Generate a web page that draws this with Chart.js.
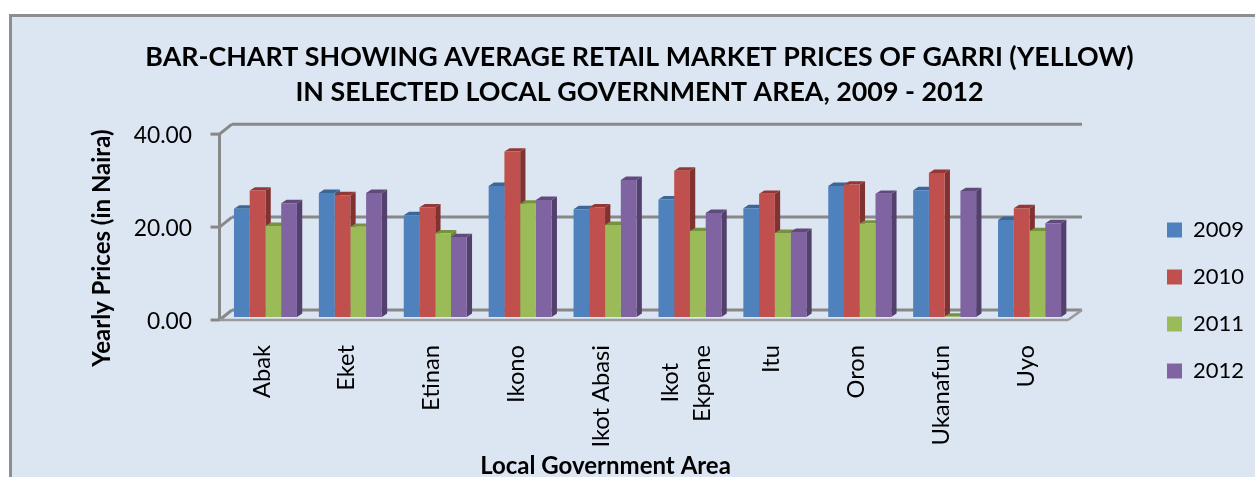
<!DOCTYPE html>
<html>
<head>
<meta charset="utf-8">
<title>Garri prices</title>
<script src="https://cdn.jsdelivr.net/npm/chart.js@4/dist/chart.umd.min.js"></script>
<style>
    html, body { margin: 0; padding: 0; background: #fff; overflow: hidden; }
    #panel {
        position: absolute; left: 9px; top: 14px; width: 1300px; height: 500px;
        background: #DCE6F2; border: 3px solid #8E8E8E; box-sizing: border-box;
    }
    canvas { position: absolute; left: 0; top: 0; }
</style>
</head>
<body>
<div id="panel"></div>
<canvas id="chart" width="1255" height="477"></canvas>
<script>
const categories = ["Abak", "Eket", "Etinan", "Ikono", "Ikot Abasi", ["Ikot", "Ekpene"], "Itu", "Oron", "Ukanafun", "Uyo"];
const years = ["2009", "2010", "2011", "2012"];
const values2009 = [23.3, 26.7, 21.9, 28.2, 23.2, 25.3, 23.4, 28.2, 27.3, 20.9];
const values2010 = [27.2, 26.2, 23.6, 35.6, 23.6, 31.5, 26.5, 28.5, 31.0, 23.4];
const values2011 = [19.6, 19.4, 18.0, 24.4, 19.8, 18.5, 18.1, 20.1, 0.1, 18.5];
const values2012 = [24.5, 26.7, 17.2, 25.2, 29.5, 22.4, 18.3, 26.5, 27.1, 20.2];
const yTicks = [0, 20, 40];
const titleLines = ["BAR-CHART SHOWING AVERAGE RETAIL MARKET PRICES OF GARRI (YELLOW)", "IN SELECTED LOCAL GOVERNMENT AREA, 2009 - 2012"];

const allValues = [values2009, values2010, values2011, values2012];
const frontColors = ["#4F81BD", "#C0504D", "#9BBB59", "#8064A2"];
const topColors = ["#3B6797", "#953735", "#76923C", "#604A7B"];
const sideColors = ["#3A5F8C", "#7F3230", "#6F8840", "#54406C"];
const lineColor = "#888888";
const fontName = "Lato";

// moves an axis title away from the middle of its scale
function shiftTitle(scale, dx, dy) {
    if (scale.shifted) return;
    scale.shifted = true;
    const original = scale.drawTitle;
    scale.drawTitle = function () {
        this.ctx.save();
        this.ctx.translate(dx, dy);
        original.call(this);
        this.ctx.restore();
    };
}

// the wrapped label has its two lines centred on each other, not end-aligned
function splitWrappedLabel(scale) {
    const items = scale.getLabelItems();
    const index = items.findIndex(item => Array.isArray(item.label));
    if (index < 0) return;
    const item = items[index];
    const single = items[index - 1];
    const x = single.options.translation[0] + scale.getPixelForTick(index) - scale.getPixelForTick(index - 1);
    const y = single.options.translation[1];
    const parts = item.label.map((text, n) => ({
        ...item,
        label: text,
        textOffset: single.textOffset,
        options: { ...item.options, translation: [x + (n === 0 ? -16 : 16), y + (n === 0 ? 18 : 0)] }
    }));
    items.splice(index, 1, ...parts);
}

function line(ctx, x1, y1, x2, y2) {
    ctx.beginPath();
    ctx.moveTo(x1, y1);
    ctx.lineTo(x2, y2);
    ctx.stroke();
}

function drawWalls(chart) {
    const ctx = chart.ctx;
    const y = chart.scales.y;
    const area = chart.chartArea;
    // front edge sits left/below the bar plane, back wall right/above it
    const frontL = area.left - 3.5, frontR = area.right - 4;
    const backL = area.left + 9, backR = area.right + 10;
    ctx.save();
    ctx.strokeStyle = lineColor;
    ctx.lineWidth = 3;
    yTicks.forEach(v => {
        const py = y.getPixelForValue(v);
        line(ctx, frontL - 9, py + 3, frontL, py + 3);
        line(ctx, frontL, py + 3, backL, py - 7);
        line(ctx, backL, py - 7, backR, py - 7);
    });
    line(ctx, frontL, y.getPixelForValue(40) + 2, frontL, y.getPixelForValue(0) + 4);
    ctx.strokeStyle = "#9A9A9A";
    ctx.lineWidth = 2.5;
    line(ctx, frontL, y.getPixelForValue(0) + 3, frontR, y.getPixelForValue(0) + 3);
    line(ctx, frontR, y.getPixelForValue(0) + 3, backR, y.getPixelForValue(0) - 7);
    ctx.restore();
}

// side and top faces go first, the library paints the front faces over them
function drawFaces(chart) {
    const ctx = chart.ctx;
    const dx = 5.3, dy = 3.4;
    ctx.save();
    years.forEach((year, i) => {
        chart.getDatasetMeta(i).data.forEach(bar => {
            const p = bar.getProps(["x", "y", "base", "width"], true);
            const l = p.x - p.width / 2, r = p.x + p.width / 2;
            ctx.fillStyle = sideColors[i];
            ctx.beginPath();
            ctx.moveTo(r, p.y);
            ctx.lineTo(r + dx, p.y - dy);
            ctx.lineTo(r + dx, p.base - dy);
            ctx.lineTo(r, p.base);
            ctx.closePath();
            ctx.fill();
            ctx.fillStyle = topColors[i];
            ctx.beginPath();
            ctx.moveTo(l, p.y);
            ctx.lineTo(l + dx, p.y - dy);
            ctx.lineTo(r + dx, p.y - dy);
            ctx.lineTo(r, p.y);
            ctx.closePath();
            ctx.fill();
        });
    });
    ctx.restore();
}

const threeD = {
    id: "threeD",
    beforeLayout(chart) {
        const legend = chart.legend;
        if (legend.wrapped) return;
        legend.wrapped = true;
        const fit = legend.fit;
        legend.fit = function () {
            fit.call(this);
            this.width = 183;
        };
    },
    afterLayout(chart) {
        const legend = chart.legend;
        legend.left = 1142;
        legend.right = 1255;
        legend.top = 194;
        legend.bottom = 477;
        shiftTitle(chart.scales.y, 1, 24);
        shiftTitle(chart.scales.x, -42, 4);
    },
    beforeDraw(chart) {
        splitWrappedLabel(chart.scales.x);
    },
    beforeDatasetsDraw(chart) {
        drawWalls(chart);
        drawFaces(chart);
    }
};

new Chart(document.getElementById("chart").getContext("2d"), {
    type: "bar",
    plugins: [threeD],
    data: {
        labels: categories,
        datasets: years.map((year, i) => ({
            label: year,
            data: allValues[i],
            backgroundColor: frontColors[i],
            borderWidth: 0,
            categoryPercentage: 0.742,
            barPercentage: 1
        }))
    },
    options: {
        responsive: false,
        animation: false,
        layout: { padding: { left: 24, right: 0, top: 0, bottom: 0 } },
        plugins: {
            tooltip: { enabled: false },
            title: {
                display: true,
                text: titleLines,
                color: "#000",
                font: { family: fontName, size: 26.8, weight: "bold", lineHeight: 1.29 },
                padding: { top: 40, bottom: 22 }
            },
            legend: {
                position: "right",
                align: "start",
                labels: {
                    color: "#000",
                    font: { family: fontName, size: 22 },
                    boxWidth: 15,
                    boxHeight: 15,
                    padding: 25
                }
            }
        },
        scales: {
            x: {
                afterFit(scale) { scale.height = 160; },
                grid: { display: false },
                border: { display: false },
                ticks: {
                    color: "#000",
                    font: { family: fontName, size: 23.7, lineHeight: 1.35 },
                    minRotation: 90,
                    maxRotation: 90,
                    autoSkip: false,
                    padding: 20,
                    labelOffset: -3.5
                },
                title: {
                    display: true,
                    text: "Local Government Area",
                    color: "#000",
                    font: { family: fontName, size: 24, weight: "bold" },
                    padding: { top: 0, bottom: 0 }
                }
            },
            y: {
                min: 0,
                max: 40,
                afterFit(scale) { scale.width = 199; },
                afterBuildTicks(scale) { scale.ticks = yTicks.map(v => ({ value: v })); },
                grid: { display: false },
                border: { display: false },
                ticks: {
                    color: "#000",
                    font: { family: fontName, size: 22.8 },
                    padding: 23,
                    labelOffset: 5,
                    callback: v => v.toFixed(2)
                },
                title: {
                    display: true,
                    text: "Yearly Prices (in Naira)",
                    color: "#000",
                    font: { family: fontName, size: 24, weight: "bold" },
                    padding: { top: 63, bottom: 0 }
                }
            }
        }
    }
});
</script>
</body>
</html>
